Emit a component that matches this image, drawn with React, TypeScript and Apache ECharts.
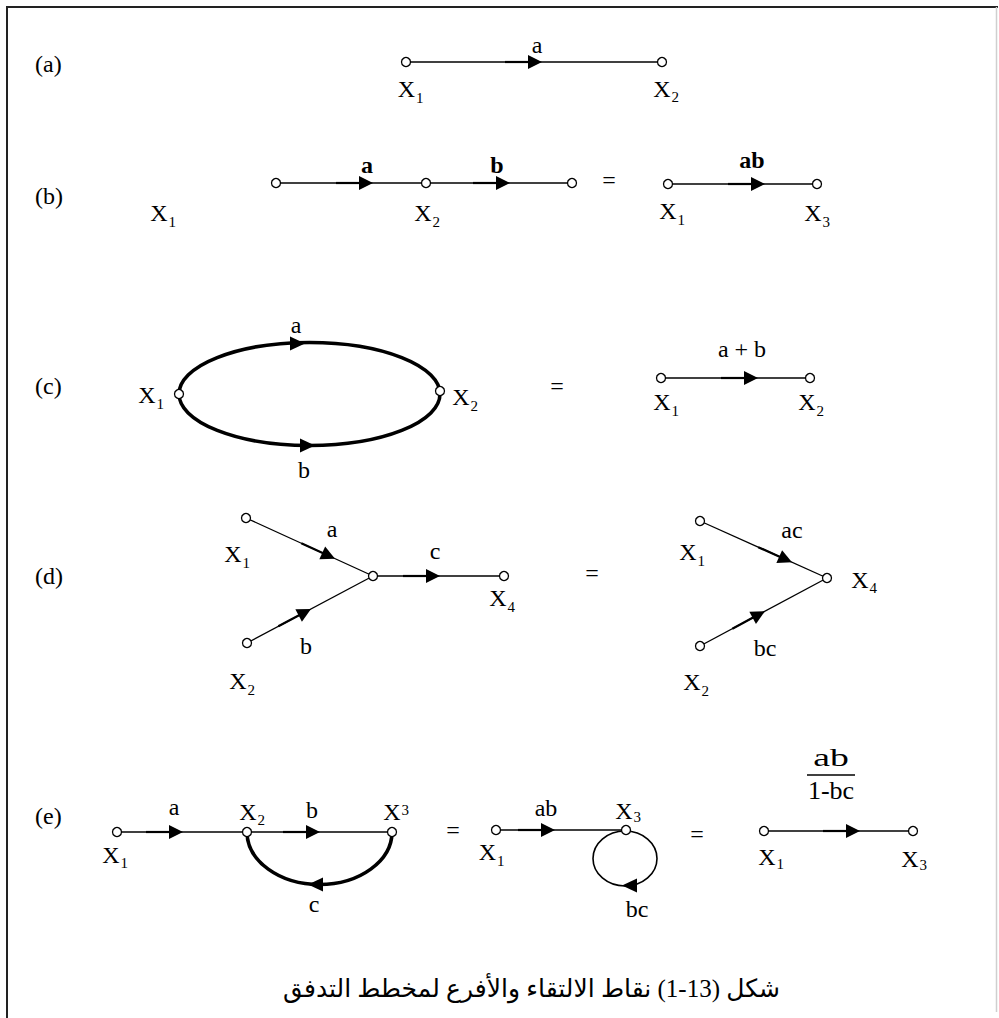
import React, { useEffect, useRef } from "react";
import * as echarts from "echarts";

// ---------------- data (diagram coordinates) ----------------
const panelTags = ["(a)", "(b)", "(c)", "(d)", "(e)"];
const panelTagAnchors = [
  [35, 64],
  [35, 195.5],
  [35, 385.5],
  [35, 575.5],
  [35, 815.5],
];

// signal nodes (small open circles)
const nodePoints = [
  // (a)
  [406, 62], [662, 62],
  // (b)
  [276, 183], [426, 183], [572, 183], [668, 184], [817, 184],
  // (c)
  [179, 394], [440, 391], [661, 378], [810, 378],
  // (d)
  [246, 518], [373, 576], [247, 643], [504, 576], [700, 521], [827, 578], [700, 646],
  // (e)
  [117, 832], [247, 832], [392, 832], [496, 830], [626, 830], [764, 831], [913, 831],
];

// straight branches: [x1, y1, x2, y2, arrow tip x]
const branches = [
  [406, 62, 662, 62, 542],
  [276, 183, 426, 183, 373],
  [426, 183, 572, 183, 510],
  [668, 184, 817, 184, 765],
  [661, 378, 810, 378, 758],
  [246, 518, 373, 576, 335],
  [247, 643, 373, 576, 311],
  [373, 576, 504, 576, 440],
  [700, 521, 827, 578, 792],
  [700, 646, 827, 578, 765],
  [117, 832, 247, 832, 183],
  [247, 832, 392, 832, 320],
  [496, 830, 626, 830, 555],
  [764, 831, 913, 831, 860],
];

// curved branches: [cx, cy, rx, ry]
const curveArcs = [
  [309.5, 394, 130.5, 51.5],
  [319.5, 832, 72.5, 52.5],
  [625, 858.5, 32, 27.5],
];
const curveKinds = ["full", "lower", "full"];
// arrow heads on curved branches: [tip x, tip y, direction (1 right, -1 left)]
const curveArrowTips = [
  [305, 343.5, 1],
  [315, 445.5, 1],
  [308, 884.5, -1],
  [622, 885.5, -1],
];

// branch gains
const gainTexts = [
  "a",
  "a", "b", "ab",
  "a", "b", "a + b",
  "a", "b", "c", "ac", "bc",
  "a", "b", "c", "ab", "bc",
];
const gainAnchors = [
  [537, 44.5],
  [367, 165], [497, 165], [752, 159.5],
  [296, 324.5], [304, 469.5], [742, 348.5],
  [332, 528.5], [306, 645.5], [435, 551], [792, 530], [765, 647.5],
  [174, 806.5], [312, 810], [314, 903.5], [546, 807.5], [637, 908.5],
];

// node variables X with index: anchor of the letter X, index digit, digit shift
const variableAnchors = [
  [406.5, 88.5], [662, 88.5],
  [159, 212.5], [423, 212.5], [668, 210.5], [813, 213],
  [147, 395], [461, 397], [662, 401.5], [807, 401.5],
  [233, 553.5], [238, 681], [498, 598], [688, 552], [860, 580], [692, 682],
  [111, 855], [248, 812], [392, 812], [487.5, 852], [624, 811], [767, 857], [910, 858.5],
];
const variableIndices = [
  "1", "2",
  "1", "2", "1", "3",
  "1", "2", "1", "2",
  "1", "2", "4", "1", "4", "2",
  "1", "2", "3", "1", "3", "1", "3",
];
const indexShifts = [
  9.5, 8.5,
  9, 9, 9, 9,
  9, 9, 9, 9,
  9, 9, 9, 9, 8, 9,
  8, 8, -2, 9, 5.5, 6.5, 6.5,
];

const equalsAnchors = [
  [609, 180],
  [557, 386],
  [592, 573],
  [453, 830],
  [697, 834],
];

const fractionNumerator = "ab";
const fractionDenominator = "1-bc";
const fractionAnchors = [[831, 775]];

const captionText = "شكل (13-1) نقاط الالتقاء والأفرع لمخطط التدفق";
const captionAnchors = [[531.5, 988]];

// ---------------- styling ----------------
const SERIF = "Liberation Serif";
const INK = "#000";
const BOLD_GAINS = [1, 2, 3];

function tri(tip: number[], ux: number, uy: number, len = 14, half = 7) {
  const bx = tip[0] - ux * len;
  const by = tip[1] - uy * len;
  const px = -uy;
  const py = ux;
  return {
    type: "polygon",
    shape: {
      points: [
        [tip[0], tip[1]],
        [bx + px * half, by + py * half],
        [bx - px * half, by - py * half],
      ],
    },
    style: { fill: INK },
  };
}

function textEl(
  x: number,
  y: number,
  text: string,
  size: number,
  weight = "normal",
  align = "center",
  family = SERIF,
  scaleX = 1
) {
  return {
    type: "text",
    x,
    y,
    scaleX,
    style: {
      text,
      fill: INK,
      fontSize: size,
      fontFamily: family,
      fontWeight: weight,
      align,
      verticalAlign: "middle",
    },
  };
}

export default function App() {
  const ref = useRef<HTMLDivElement>(null);

  useEffect(() => {
    if (!ref.current) return;
    document.body.style.background = "#fff";
    const chart = echarts.init(ref.current, undefined, { renderer: "svg" });

    const option: any = {
      animation: false,
      backgroundColor: "#fff",
      grid: { left: 0, right: 0, top: 0, bottom: 0 },
      xAxis: { type: "value", min: 0, max: 999, show: false },
      yAxis: { type: "value", min: 0, max: 1018, inverse: true, show: false },
      graphic: [
        { type: "line", shape: { x1: 6, y1: 7, x2: 998, y2: 7 }, style: { stroke: "#222", lineWidth: 2 }, z: 1 },
        { type: "line", shape: { x1: 7, y1: 6, x2: 7, y2: 1018 }, style: { stroke: "#222", lineWidth: 2 }, z: 1 },
        { type: "line", shape: { x1: 996.5, y1: 7, x2: 996.5, y2: 1012 }, style: { stroke: "#cfcfcf", lineWidth: 1.5 }, z: 1 },
      ],
      series: [
        // straight branches with arrows
        {
          type: "custom",
          coordinateSystem: "cartesian2d",
          silent: true,
          z: 2,
          data: branches,
          renderItem: (_p: any, api: any) => {
            const p1 = api.coord([api.value(0), api.value(1)]);
            const p2 = api.coord([api.value(2), api.value(3)]);
            const tipX = api.coord([api.value(4), api.value(1)])[0];
            const dx = p2[0] - p1[0];
            const dy = p2[1] - p1[1];
            const L = Math.hypot(dx, dy);
            const ux = dx / L;
            const uy = dy / L;
            const t = (tipX - p1[0]) / dx;
            const tip = [p1[0] + dx * t, p1[1] + dy * t];
            const base = [tip[0] - ux * 13, tip[1] - uy * 13];
            const tail = [base[0] - ux * 24, base[1] - uy * 24];
            return {
              type: "group",
              children: [
                { type: "line", shape: { x1: p1[0], y1: p1[1], x2: p2[0], y2: p2[1] }, style: { stroke: INK, lineWidth: 1.3 } },
                { type: "line", shape: { x1: tail[0], y1: tail[1], x2: base[0], y2: base[1] }, style: { stroke: INK, lineWidth: 2.2 } },
                tri(tip, ux, uy),
              ],
            };
          },
        },
        // curved branches
        {
          type: "custom",
          coordinateSystem: "cartesian2d",
          silent: true,
          z: 2,
          data: curveArcs,
          renderItem: (p: any, api: any) => {
            const c = api.coord([api.value(0), api.value(1)]);
            const e = api.coord([api.value(0) + api.value(2), api.value(1) + api.value(3)]);
            const rx = Math.abs(e[0] - c[0]);
            const ry = Math.abs(e[1] - c[1]);
            const kind = curveKinds[p.dataIndex];
            const lower = `M ${c[0] - rx} ${c[1]} A ${rx} ${ry} 0 0 0 ${c[0] + rx} ${c[1]}`;
            const upper = ` M ${c[0] - rx} ${c[1]} A ${rx} ${ry} 0 0 1 ${c[0] + rx} ${c[1]}`;
            return {
              type: "path",
              shape: { pathData: kind === "full" ? lower + upper : lower },
              style: { fill: "none", stroke: INK, lineWidth: p.dataIndex < 2 ? 3.6 : 1.6 },
            };
          },
        },
        // arrow heads on curves
        {
          type: "custom",
          coordinateSystem: "cartesian2d",
          silent: true,
          z: 3,
          data: curveArrowTips,
          renderItem: (_p: any, api: any) => {
            const tip = api.coord([api.value(0), api.value(1)]);
            const dir = api.value(2);
            return tri(tip, dir, 0, 15, 7);
          },
        },
        // nodes
        {
          type: "scatter",
          silent: true,
          z: 5,
          symbol: "circle",
          symbolSize: 9,
          itemStyle: { color: "#fff", borderColor: INK, borderWidth: 1.3, opacity: 1 },
          data: nodePoints,
        },
        // panel tags
        {
          type: "custom",
          coordinateSystem: "cartesian2d",
          silent: true,
          z: 6,
          data: panelTagAnchors,
          renderItem: (p: any, api: any) => {
            const c = api.coord([api.value(0), api.value(1)]);
            return textEl(c[0], c[1], panelTags[p.dataIndex], 24, "normal", "left");
          },
        },
        // gains
        {
          type: "custom",
          coordinateSystem: "cartesian2d",
          silent: true,
          z: 6,
          data: gainAnchors,
          renderItem: (p: any, api: any) => {
            const c = api.coord([api.value(0), api.value(1)]);
            const bold = BOLD_GAINS.indexOf(p.dataIndex) >= 0;
            return textEl(c[0], c[1], gainTexts[p.dataIndex], 24, bold ? "bold" : "normal");
          },
        },
        // variables X_i
        {
          type: "custom",
          coordinateSystem: "cartesian2d",
          silent: true,
          z: 6,
          data: variableAnchors,
          renderItem: (p: any, api: any) => {
            const c = api.coord([api.value(0), api.value(1)]);
            const i = p.dataIndex;
            return {
              type: "group",
              children: [
                textEl(c[0], c[1], "X", 24),
                textEl(c[0] + 9.5, c[1] + indexShifts[i], variableIndices[i], 15, "normal", "left"),
              ],
            };
          },
        },
        // equals signs
        {
          type: "custom",
          coordinateSystem: "cartesian2d",
          silent: true,
          z: 6,
          data: equalsAnchors,
          renderItem: (_p: any, api: any) => {
            const c = api.coord([api.value(0), api.value(1)]);
            return textEl(c[0], c[1], "=", 24);
          },
        },
        // fraction gain
        {
          type: "custom",
          coordinateSystem: "cartesian2d",
          silent: true,
          z: 6,
          data: fractionAnchors,
          renderItem: (_p: any, api: any) => {
            const c = api.coord([api.value(0), api.value(1)]);
            return {
              type: "group",
              children: [
                textEl(c[0], c[1] - 17.5, fractionNumerator, 26, "normal", "center", SERIF, 1.45),
                { type: "line", shape: { x1: c[0] - 24, y1: c[1], x2: c[0] + 24, y2: c[1] }, style: { stroke: INK, lineWidth: 1.3 } },
                textEl(c[0], c[1] + 15, fractionDenominator, 26),
              ],
            };
          },
        },
        // caption
        {
          type: "custom",
          coordinateSystem: "cartesian2d",
          silent: true,
          z: 6,
          data: captionAnchors,
          renderItem: (_p: any, api: any) => {
            const c = api.coord([api.value(0), api.value(1)]);
            return textEl(c[0], c[1], captionText, 25, "normal", "center", "Liberation Serif, DejaVu Sans, sans-serif");
          },
        },
      ],
    };

    chart.setOption(option);
    return () => chart.dispose();
  }, []);

  return (
    <div
      ref={ref}
      style={{ position: "fixed", left: 0, top: 0, width: 999, height: 1018, background: "#fff" }}
    />
  );
}
